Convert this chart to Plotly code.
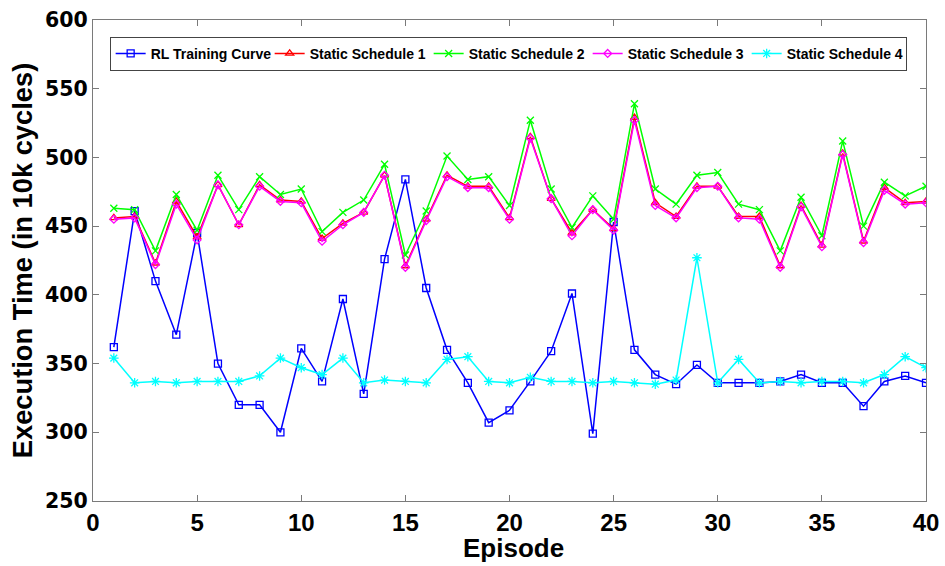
import plotly.graph_objects as go

episodes = list(range(1, 41))

rl_training = [362, 461, 410, 371, 445, 350, 320, 320, 300, 361,
               337, 397, 328, 426, 484, 405, 360, 336, 307, 316,
               337, 359, 401, 299, 453, 360, 342, 335, 349, 336,
               336, 336, 337, 342, 336, 336, 319, 337, 341, 336]

static_1 = [456, 457, 423, 468, 442, 480, 451, 480, 469, 468,
            441, 452, 460, 487, 421, 455, 487, 479, 479, 456,
            515, 470, 445, 462, 448, 529, 467, 457, 479, 479,
            457, 457, 421, 465, 436, 503, 439, 478, 467, 468]

static_2 = [463, 462, 432, 473, 447, 487, 462, 486, 473, 477,
            446, 460, 469, 495, 429, 461, 501, 484, 486, 465,
            527, 477, 449, 472, 455, 539, 477, 466, 487, 489,
            466, 462, 432, 471, 443, 512, 450, 482, 472, 479]

static_3 = [455, 456, 422, 466, 440, 480, 451, 479, 468, 467,
            439, 451, 460, 487, 420, 454, 486, 478, 478, 455,
            514, 470, 443, 462, 447, 527, 465, 456, 478, 479,
            456, 455, 420, 464, 435, 502, 438, 476, 466, 467]

static_4 = [354, 336, 337, 336, 337, 337, 337, 341, 354, 347,
            342, 354, 336, 338, 337, 336, 353, 355, 337, 336,
            340, 337, 337, 336, 337, 336, 335, 338, 427, 336,
            353, 336, 337, 336, 337, 337, 336, 342, 355, 347]

series = [
    ("RL Training Curve", rl_training, "#0000FF", "square-open", 7),
    ("Static Schedule 1", static_1, "#FF0000", "triangle-up-open", 7),
    ("Static Schedule 2", static_2, "#00FF00", "x-thin-open", 7),
    ("Static Schedule 3", static_3, "#FF00FF", "diamond-open", 6),
    ("Static Schedule 4", static_4, "#00FFFF", "asterisk-open", 8),
]

x_ticks = list(range(0, 41, 5))
y_ticks = list(range(250, 601, 50))

fig = go.Figure()
for name, vals, color, sym, sz in series:
    fig.add_trace(go.Scatter(
        x=episodes, y=vals, name=name, mode="lines+markers",
        line=dict(color=color, width=1.5),
        marker=dict(symbol=sym, size=sz, color=color, line=dict(color=color, width=1.3)),
    ))

axis_line = "#7a7a7a"
fig.update_layout(
    width=945, height=566,
    margin=dict(l=93, r=19, t=20, b=65, autoexpand=False),
    paper_bgcolor="white", plot_bgcolor="white",
    showlegend=True,
    legend=dict(
        orientation="h", x=0.02, y=0.965, xanchor="left", yanchor="top",
        bgcolor="white", bordercolor="#444444", borderwidth=1,
        font=dict(family="Liberation Sans", size=14, color="black", weight="bold"),
        itemwidth=30, tracegroupgap=0, entrywidth=114, entrywidthmode="pixels",
    ),
    xaxis=dict(
        range=[0, 40], tickvals=x_ticks, ticktext=[str(v) for v in x_ticks],
        ticks="inside", ticklen=6, tickcolor=axis_line, automargin=False,
        showline=True, linecolor=axis_line, linewidth=1, mirror="ticks",
        showgrid=False, zeroline=False,
        tickfont=dict(family="Liberation Sans", size=24, color="black", weight="bold"),
    ),
    yaxis=dict(
        range=[250, 600], tickvals=y_ticks, ticktext=[str(v) for v in y_ticks],
        ticks="inside", ticklen=6, tickcolor=axis_line, automargin=False,
        showline=True, linecolor=axis_line, linewidth=1, mirror="ticks",
        showgrid=False, zeroline=False,
        tickfont=dict(family="DejaVu Sans", size=20.5, color="black", weight="bold"),
        title=dict(text="Execution Time (in 10k cycles)", standoff=4,
                   font=dict(family="Liberation Sans", size=27.3, color="black", weight="bold")),
    ),
    annotations=[dict(
        text="Episode", xref="paper", yref="paper", x=0.505, y=-0.063,
        xanchor="center", yanchor="top", showarrow=False,
        font=dict(family="Liberation Sans", size=26, color="black", weight="bold"),
    )],
)

fig.write_html("out.html")
